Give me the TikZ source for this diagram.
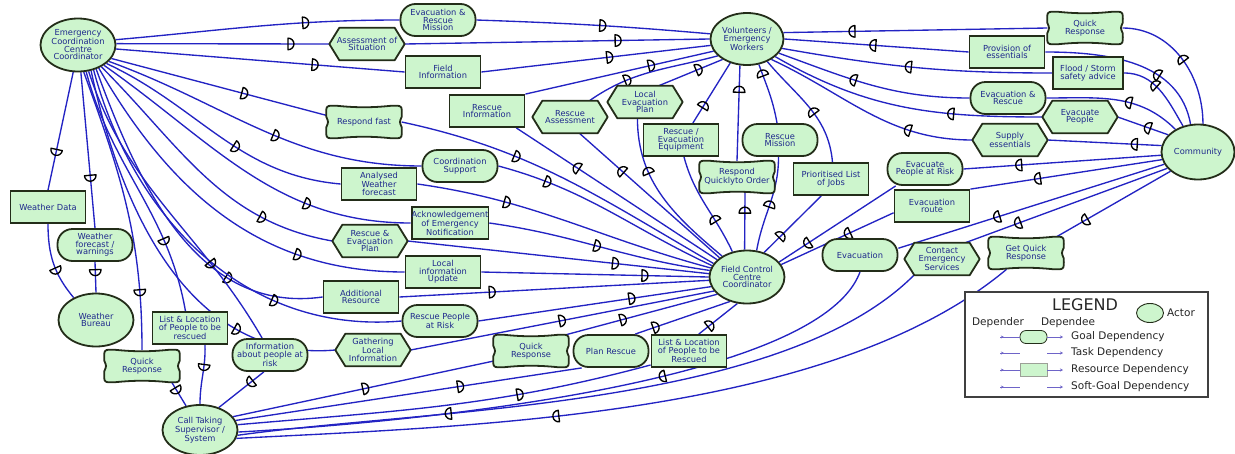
\documentclass[tikz,border=0pt]{standalone}
\usepackage{fontspec}
\usetikzlibrary{shapes.geometric,decorations.markings,calc,arrows.meta}
\newfontfamily\nodefont{DejaVu Sans}

\definecolor{actorfill}{RGB}{205,245,205}
\definecolor{edgedark}{RGB}{35,45,25}
\definecolor{linkblue}{RGB}{35,35,195}
\definecolor{labelblue}{RGB}{30,40,140}
\definecolor{legendlink}{RGB}{110,100,200}

\pgfdeclarelayer{links}
\pgfdeclarelayer{shapes}
\pgfsetlayers{links,shapes,main}

% dependency mark: a "D" pointing towards the dependee
\newcommand\dmark{\draw[black,line width=1.35pt,line join=round]
  (-3pt,-5.8pt) -- (-3pt,5.8pt) arc[start angle=90,end angle=-90,x radius=6pt,y radius=5.8pt] -- cycle;}

% hexagon outline of a task node
\newcommand\hexshape[2][10pt]{%
  \begin{pgfonlayer}{shapes}
  \draw[shapedraw] (#2.west) -- ([xshift=#1]#2.north west) -- ([xshift=-#1]#2.north east)
    -- (#2.east) -- ([xshift=-#1]#2.south east) -- ([xshift=#1]#2.south west) -- cycle;
  \end{pgfonlayer}}

% pillow outline of a soft-goal node
\newcommand\pillowshape[2][11pt]{%
  \begin{pgfonlayer}{shapes}
  \draw[shapedraw] let \p1=(#2.south west), \p2=(#2.north east), \n1={\x2-\x1}, \n2={\y2-\y1} in
   (\x1+#1,\y2) .. controls (\x1+0.4*\n1,\y2-0.06*\n2) and (\x2-0.4*\n1,\y2-0.06*\n2) .. (\x2-#1,\y2)
   .. controls (\x2+0.5pt,\y2+0.5pt) .. (\x2,\y2-#1)
   .. controls (\x2-0.03*\n1,\y1+0.5*\n2) .. (\x2,\y1+#1)
   .. controls (\x2+0.5pt,\y1-0.5pt) .. (\x2-#1,\y1)
   .. controls (\x2-0.4*\n1,\y1+0.06*\n2) and (\x1+0.4*\n1,\y1+0.06*\n2) .. (\x1+#1,\y1)
   .. controls (\x1-0.5pt,\y1-0.5pt) .. (\x1,\y1+#1)
   .. controls (\x1+0.03*\n1,\y1+0.5*\n2) .. (\x1,\y2-#1)
   .. controls (\x1-0.5pt,\y2+0.5pt) .. (\x1+#1,\y2) -- cycle;
  \end{pgfonlayer}}

\tikzset{
  lbl/.style={font={\nodefont\fontsize{8.3}{7.5}\selectfont}, text=labelblue, align=center, inner sep=0pt},
  actor/.style={lbl, ellipse, draw=edgedark, line width=1.8pt, fill=actorfill, minimum width=75pt, minimum height=53pt},
  dbox/.style={lbl, minimum width=75pt, minimum height=32pt},
  resource/.style={dbox, rectangle, draw=edgedark, line width=1.8pt, fill=actorfill},
  goal/.style={dbox, rectangle, rounded corners=15pt, draw=edgedark, line width=1.8pt, fill=actorfill},
  taskbox/.style={dbox},
  softbox/.style={dbox},
  shapedraw/.style={draw=edgedark, line width=1.8pt, fill=actorfill, line join=round},
  link/.style={draw=linkblue, line width=1.35pt},
  dm/.style={postaction={decorate, decoration={markings, mark=at position #1 with {\dmark}}}},
  legendtext/.style={font={\nodefont\fontsize{10.5}{11}\selectfont}, text=black!85, inner sep=0pt},
  legendtitle/.style={font={\nodefont\fontsize{16}{16}\selectfont}, text=black!85, inner sep=0pt},
  lgshape/.style={minimum width=27pt, minimum height=13pt, inner sep=0pt},
  lglink/.style={draw=legendlink, line width=0.7pt},
  lgstart/.style={postaction={decorate, decoration={markings, mark=at position 0.2 with {\arrow{Stealth[length=3pt,width=3pt]}}}}},
}

\begin{document}
\begin{tikzpicture}[x=1pt,y=1pt]
\useasboundingbox (0,0) rectangle (1235,-453);

% ---------------- actors ----------------
\node[actor] (ecc) at (78,-45) {Emergency\\Coordination\\Centre\\Coordinator};
\node[actor, minimum width=73pt, minimum height=52pt] (vol) at (747,-39) {Volunteers /\\Emergency\\Workers};
\node[actor, minimum width=73pt, minimum height=55pt] (com) at (1198,-152) {Community};
\node[actor] (fcc) at (747,-277) {Field Control\\Centre\\Coordinator};
\node[actor] (wb) at (96,-320) {Weather\\Bureau};
\node[actor, minimum height=50pt] (cts) at (200,-430) {Call Taking\\Supervisor /\\System};

% ---------------- dependums ----------------
\node[goal] (erm) at (438,-20) {Evacuation \&\\Rescue\\Mission};
\node[taskbox] (aos) at (367,-44) {Assessment of\\Situation}; \hexshape{aos}
\node[resource] (fi) at (443,-72) {Field\\Information};
\node[resource] (rinf) at (487,-111) {Rescue\\Information};
\node[taskbox] (rass) at (570,-117) {Rescue\\Assessment}; \hexshape{rass}
\node[taskbox] (lep) at (645,-102) {Local\\Evacuation\\Plan}; \hexshape{lep}
\node[resource] (ree) at (681,-140) {Rescue /\\Evacuation\\Equipment};
\node[softbox] (rqo) at (737,-177) {Respond\\Quicklyto Order}; \pillowshape{rqo}
\node[goal] (rm) at (780,-140) {Rescue\\Mission};
\node[resource] (plj) at (831,-179) {Prioritised List\\of Jobs};
\node[softbox] (qr1) at (1085,-28) {Quick\\Response}; \pillowshape{qr1}
\node[resource] (poe) at (1007,-52) {Provision of\\essentials};
\node[resource, minimum width=70pt] (fsa) at (1088,-73) {Flood / Storm\\safety advice};
\node[goal] (er) at (1008,-98) {Evacuation \&\\Rescue};
\node[taskbox] (ep) at (1080,-117) {Evacuate\\People}; \hexshape{ep}
\node[taskbox] (se) at (1010,-140) {Supply\\essentials}; \hexshape{se}
\node[goal] (epr) at (925,-169) {Evacuate\\People at Risk};
\node[resource] (evr) at (932,-206) {Evacuation\\route};
\node[goal] (evac) at (860,-255) {Evacuation};
\node[taskbox] (ces) at (942,-259) {Contact\\Emergency\\Services}; \hexshape{ces}
\node[softbox] (gqr) at (1026,-253) {Get Quick\\Response}; \pillowshape{gqr}
\node[softbox] (rf) at (364,-122) {Respond fast}; \pillowshape{rf}
\node[goal] (cs) at (460,-166) {Coordination\\Support};
\node[resource] (awf) at (379,-184) {Analysed\\Weather\\forecast};
\node[resource] (ack) at (450,-223) {Acknowledgement\\of Emergency\\Notification};
\node[taskbox] (rep) at (370,-241) {Rescue \&\\Evacuation\\Plan}; \hexshape{rep}
\node[resource] (liu) at (443,-272) {Local\\information\\Update};
\node[resource] (ar) at (361,-297) {Additional\\Resource};
\node[goal] (rpr) at (440,-321) {Rescue People\\at Risk};
\node[taskbox] (gli) at (373,-350) {Gathering\\Local\\Information}; \hexshape{gli}
\node[softbox] (qr2) at (531,-351) {Quick\\Response}; \pillowshape{qr2}
\node[goal] (pr) at (611,-351) {Plan Rescue};
\node[resource] (llr) at (689,-351) {List \& Location\\of People to be\\Rescued};
\node[resource] (wd) at (48,-207) {Weather Data};
\node[goal] (wfw) at (95,-245) {Weather\\forecast /\\warnings};
\node[softbox] (qr3) at (142,-366) {Quick\\Response}; \pillowshape{qr3}
\node[resource] (lll) at (190,-328) {List \& Location\\of People to be\\rescued};
\node[goal] (iap) at (270,-355) {Information\\about people at\\risk};

% ---------------- dependency links ----------------
\begin{pgfonlayer}{links}
% Emergency Coordination Centre Coordinator -> Volunteers
\draw[link,dm=0.67] (ecc.8) to[out=5,in=180] (erm.west);
\draw[link,dm=0.54] (erm.east) to[out=-2,in=175] (vol.172);
\draw[link,dm=0.82] (ecc.2) -- (aos.west);
\draw[link,dm=0.70] (aos.east) -- (vol.180);
\draw[link,dm=0.69] (ecc.-6) -- (fi.west);
\draw[link,dm=0.56] (fi.east) -- (vol.190);
% Emergency Coordination Centre Coordinator -> Field Control Centre Coordinator
\draw[link,dm=0.62] (ecc.-22) -- (rf.170);
\draw[link,dm=0.35] (rf.east) to[out=-12,in=150] (fcc.158);
\draw[link,dm=0.55] (ecc.-28) to[out=-20,in=180] (cs.west);
\draw[link,dm=0.22] (cs.east) to[out=-15,in=155] (fcc.162);
\draw[link,dm=0.58] (ecc.-33) to[out=-25,in=175] (awf.west);
\draw[link,dm=0.30] (awf.east) to[out=-8,in=165] (fcc.166);
\draw[link,dm=0.70] (ecc.-38) to[out=-35,in=180] (ack.west);
\draw[link,dm=0.49] (ack.east) to[out=-8,in=172] (fcc.170);
\draw[link,dm=0.75] (ecc.-43) to[out=-45,in=170] (rep.west);
\draw[link,dm=0.69] (rep.east) -- (fcc.175);
\draw[link,dm=0.72] (ecc.-48) to[out=-60,in=180] (liu.west);
\draw[link,dm=0.72] (liu.east) -- (fcc.180);
\draw[link,dm=0.72] (ecc.-53) to[out=-70,in=188] (ar.west);
\draw[link,dm=0.30] (ar.east) -- (fcc.-175);
\draw[link,dm=0.70] (ecc.-58) to[out=-75,in=185] (rpr.west);
\draw[link,dm=0.66] (rpr.east) -- (fcc.-165);
\draw[link,dm=0.75] (ecc.-63) to[out=-78,in=185] (gli.west);
\draw[link,dm=0.50] (gli.east) -- (fcc.-157);
% Emergency Coordination Centre Coordinator -> Call Taking
\draw[link,dm=0.72] (ecc.-68) to[out=-72,in=120] (iap.115);
\draw[link,dm=0.30] (iap.-110) -- (cts.50);
\draw[link,dm=0.72] (ecc.-73) to[out=-75,in=100] (lll.105);
\draw[link,dm=0.38] ([xshift=15pt]lll.south) to[out=-88,in=90] (cts.north);
\draw[link,dm=0.80] (ecc.-78) to[out=-70,in=90] (qr3.north);
\draw[link,dm=0.35] ([xshift=-8pt]qr3.south east) -- (cts.120);
% Emergency Coordination Centre Coordinator -> Weather Bureau
\draw[link,dm=0.68] (ecc.-100) -- (wd.north);
\draw[link,dm=0.60] (wd.south) to[out=-90,in=130] (wb.135);
\draw[link,dm=0.68] (ecc.-84) -- (wfw.north);
\draw[link,dm=0.35] (wfw.south) -- (wb.north);
% Field Control Centre Coordinator -> Volunteers
\draw[link,dm=0.70] (fcc.150) -- (rinf.-30);
\draw[link,dm=0.67] (rinf.north east) -- (vol.-160);
\draw[link,dm=0.70] (fcc.145) -- (rass.-60);
\draw[link,dm=0.32] (rass.40) to[out=35,in=195] (vol.-150);
\draw[link,dm=0.68] (fcc.140) to[out=140,in=-90] (lep.-115);
\draw[link,dm=0.63] (lep.50) -- (vol.-140);
\draw[link,dm=0.35] (fcc.120) to[out=115,in=-75] (ree.-80);
\draw[link,dm=0.30] (ree.55) -- (vol.-125);
\draw[link,dm=0.70] (fcc.95) -- ([xshift=8pt]rqo.south);
\draw[link,dm=0.75] (rqo.north) -- (vol.-105);
\draw[link,dm=0.50] (fcc.70) to[out=80,in=-90] (rm.-95);
\draw[link,dm=0.85] (rm.100) to[out=100,in=-70] (vol.-65);
\draw[link,dm=0.30] (fcc.55) -- (plj.-120);
\draw[link,dm=0.45] (plj.85) to[out=95,in=-50] (vol.-48);
% Community -> Volunteers
\draw[link,dm=0.50] (com.80) to[out=90,in=0] (qr1.east);
\draw[link,dm=0.74] (qr1.west) -- (vol.10);
\draw[link,dm=0.35] (com.105) to[out=100,in=0] (poe.east);
\draw[link,dm=0.52] (poe.west) -- (vol.0);
\draw[link,dm=0.60] (com.120) to[out=120,in=0] (fsa.east);
\draw[link,dm=0.53] (fsa.west) to[out=180,in=-10] (vol.-15);
\draw[link,dm=0.40] (com.135) to[out=135,in=0] (er.east);
\draw[link,dm=0.60] (er.west) to[out=180,in=-20] (vol.-24);
\draw[link,dm=0.41] (com.150) -- (ep.east);
\draw[link,dm=0.33] (ep.west) to[out=180,in=-30] (vol.-32);
\draw[link,dm=0.24] (com.170) -- (se.east);
\draw[link,dm=0.30] (se.west) to[out=180,in=-25] (vol.-40);
% Community -> Field Control Centre Coordinator
\draw[link,dm=0.72] (com.-175) -- (epr.east);
\draw[link,dm=0.76] (epr.-150) -- (fcc.25);
\draw[link,dm=0.65] (com.-168) -- (evr.north east);
\draw[link,dm=0.41] (evr.-170) -- (fcc.20);
% Community -> Call Taking
\draw[link,dm=0.63] (com.-160) -- (evac.10);
\draw[link,dm=0.35] (evac.south) to[out=-110,in=3,looseness=0.5] (cts.-3);
\draw[link,dm=0.74] (com.-152) -- (ces.35);
\draw[link,dm=0.70] (ces.-150) to[out=-135,in=8,looseness=0.7] (cts.-8);
\draw[link,dm=0.75] (com.-145) -- (gqr.28);
\draw[link,dm=0.60] (gqr.-140) to[out=-140,in=3,looseness=0.75] (cts.-13);
% Call Taking -> Field Control Centre Coordinator
\draw[link,dm=0.51] (cts.22) -- (qr2.-165);
\draw[link,dm=0.38] (qr2.25) -- (fcc.-150);
\draw[link,dm=0.65] (cts.15) -- (pr.-150);
\draw[link,dm=0.22] (pr.35) -- (fcc.-125);
\draw[link,dm=0.68] (cts.8) to[out=5,in=195] (llr.-160);
\draw[link,dm=0.30] (llr.60) -- (fcc.-110);
\end{pgfonlayer}

% ---------------- legend ----------------
\node[draw=black!75, line width=1.2pt, fill=white, minimum width=243pt, minimum height=105pt, inner sep=0pt] (lgbox) at (1086.5,-344.5) {};
\node[legendtitle] (lgtitle) at (1085,-305) {LEGEND};
\node[actor, minimum width=27pt, minimum height=19pt, line width=0.9pt] (lgactor) at (1150,-313) {};
\node[legendtext, anchor=west] (lgactorlab) at (1167,-313) {Actor};
\node[legendtext] (lgdr) at (998,-323) {Depender};
\node[legendtext] (lgde) at (1068,-323) {Dependee};
\begin{scope}[shapedraw/.style={draw=edgedark, line width=0.8pt, fill=actorfill, line join=round}]
  \node[lgshape, rectangle, rounded corners=6pt, draw=edgedark, line width=0.8pt, fill=actorfill] (lgg) at (1033.5,-337) {};
  \node[lgshape] (lgt) at (1033.5,-353) {}; \hexshape[4pt]{lgt}
  \node[lgshape, rectangle, draw=edgedark!45, line width=0.8pt, fill=actorfill] (lgr) at (1033.5,-370) {};
  \node[lgshape] (lgs) at (1033.5,-387) {}; \pillowshape[4pt]{lgs}
\end{scope}
\foreach \nm/\yy/\txt in {lgg/337/Goal Dependency, lgt/353/Task Dependency, lgr/370/Resource Dependency, lgs/387/Soft-Goal Dependency}{
  \coordinate (\nm l) at (1000,-\yy);
  \coordinate (\nm r) at (1063,-\yy);
  \draw[lglink,lgstart] (\nm l) -- (\nm);
  \draw[lglink,-{Stealth[length=3pt,width=3pt]}] (\nm) -- (\nm r);
  \node[legendtext, anchor=west] (\nm txt) at (1071,-\yy) {\txt};
}
\end{tikzpicture}
\end{document}
